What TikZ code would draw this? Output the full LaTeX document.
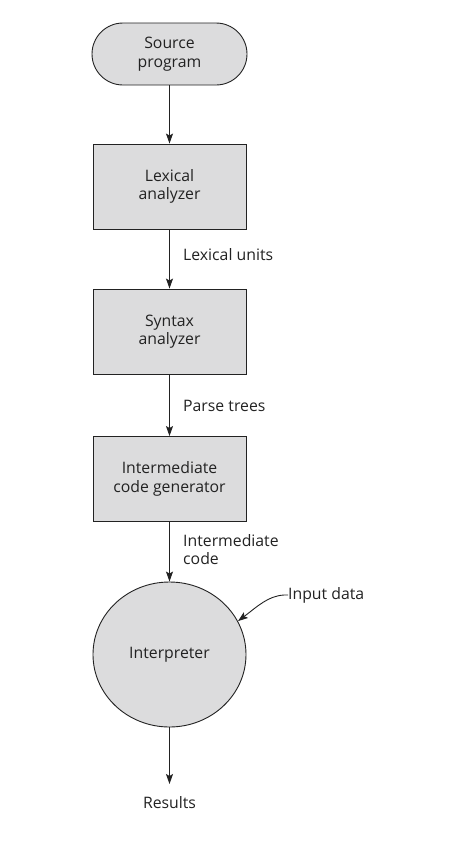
\documentclass[tikz,border=0pt]{standalone}
\usepackage{fontspec}
\setmainfont{Open Sans}
\usetikzlibrary{arrows.meta,shapes.geometric}
\definecolor{boxfill}{HTML}{DCDCDD}
\definecolor{ink}{HTML}{222222}
\begin{document}
\begin{tikzpicture}[x=1pt,y=-1pt,
  every node/.style={font=\fontsize{15.8}{18.5}\selectfont, text=ink},
  procbox/.style={draw=ink, line width=0.9pt, fill=boxfill, minimum width=153pt, minimum height=85pt, align=center, inner sep=0pt},
  terminal/.style={draw=ink, line width=0.9pt, fill=boxfill, minimum width=155pt, minimum height=62pt, rounded corners=31pt, align=center, inner sep=0pt},
  interp/.style={ellipse, draw=ink, line width=0.9pt, fill=boxfill, minimum width=153pt, minimum height=145pt, inner sep=0pt},
  flow/.style={draw=ink, line width=0.9pt, -{Stealth[length=10pt,width=7pt,inset=2pt]}},
  lbl/.style={anchor=west, align=left, inner sep=0pt}
]
\useasboundingbox (0,0) rectangle (452,847);
\node[terminal] (src) at (169.5,54) {Source\\program};
\node[procbox] (lex) at (169.5,186.5) {Lexical\\analyzer};
\node[procbox] (syn) at (169.5,331.5) {Syntax\\analyzer};
\node[procbox] (inter) at (169.5,479) {Intermediate\\code generator};
\node[interp] (interp) at (169.5,654.5) {Interpreter};
\node[inner sep=0pt] (res) at (169.5,803) {Results};
\coordinate (resend) at (169.5,784);
\node[lbl] (lexu) at (183,255) {Lexical units};
\node[lbl] (parse) at (183,406) {Parse trees};
\node[lbl] (icode) at (183,549.5) {Intermediate\\code};
\node[lbl] (indata) at (288,595) {Input data};
\draw[flow] (indata.west) -- ++(-4,0) .. controls (268,596) and (258,606) .. (interp.26);
\draw[flow] (src) -- (lex);
\draw[flow] (lex) -- (syn);
\draw[flow] (syn) -- (inter);
\draw[flow] (inter) -- (interp);
\draw[flow] (interp) -- (resend);
\end{tikzpicture}
\end{document}
